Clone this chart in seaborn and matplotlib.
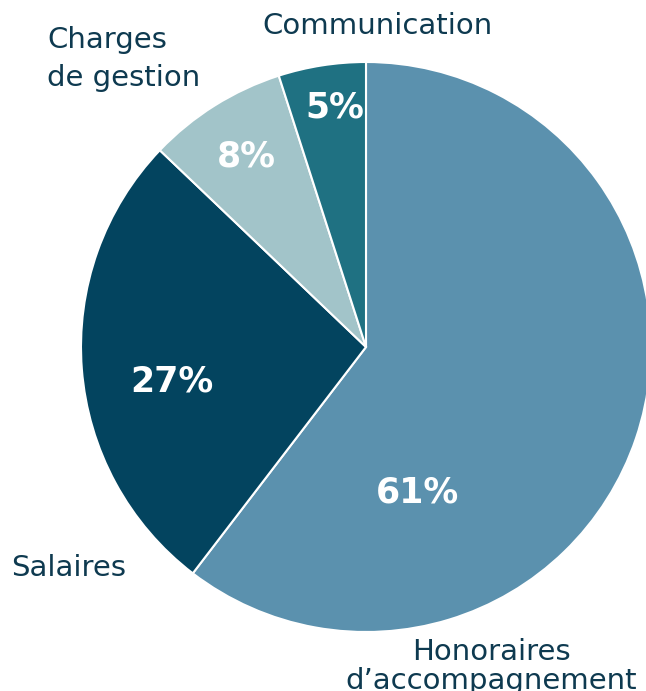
import matplotlib
matplotlib.use("Agg")
import matplotlib.pyplot as plt
import seaborn as sns

# data
categories = ["Honoraires\nd\u2019accompagnement", "Salaires", "Charges\nde gestion", "Communication"]
parts = [61, 27, 8, 5]
colors = ["#5b91ae", "#03445f", "#a2c4c9", "#1f7182"]

sns.set_theme(style="white")
plt.rcParams['font.family'] = ['DejaVu Sans']

fig = plt.figure(figsize=(6.46, 6.91), dpi=100)
ax = fig.add_axes([81 / 646, 59 / 691, 570 / 646, 570 / 691])

wedges, _ = ax.pie(parts, colors=sns.color_palette(colors), startangle=90,
                   counterclock=False, radius=1,
                   wedgeprops=dict(edgecolor="white", linewidth=1.5))
for w in wedges:
    w.set_clip_on(False)

# label placement (in pie units)
pct_pos = [(0.18, -0.51), (-0.68, -0.12), (-0.42, 0.67), (-0.11, 0.84)]
cat_pos = [(0.44, -1.12), (-1.245, -0.775), (-1.118, 1.01), (0.04, 1.125)]
cat_ha = ["center", "left", "left", "center"]
cat_ls = [1.05, 1.2, 1.45, 1.2]

for v, (x, y) in zip(parts, pct_pos):
    ax.text(x, y, f"{v}%", ha="center", va="center", color="white",
            fontsize=25, fontweight="bold")

for lab, (x, y), ha, ls in zip(categories, cat_pos, cat_ha, cat_ls):
    ax.text(x, y, lab, ha=ha, va="center", color="#0e3a50", fontsize=21,
            linespacing=ls)

ax.set_xlim(-1, 1)
ax.set_ylim(-1, 1)
ax.set_aspect("equal")
ax.axis("off")

fig.savefig("out.png", dpi=100)
